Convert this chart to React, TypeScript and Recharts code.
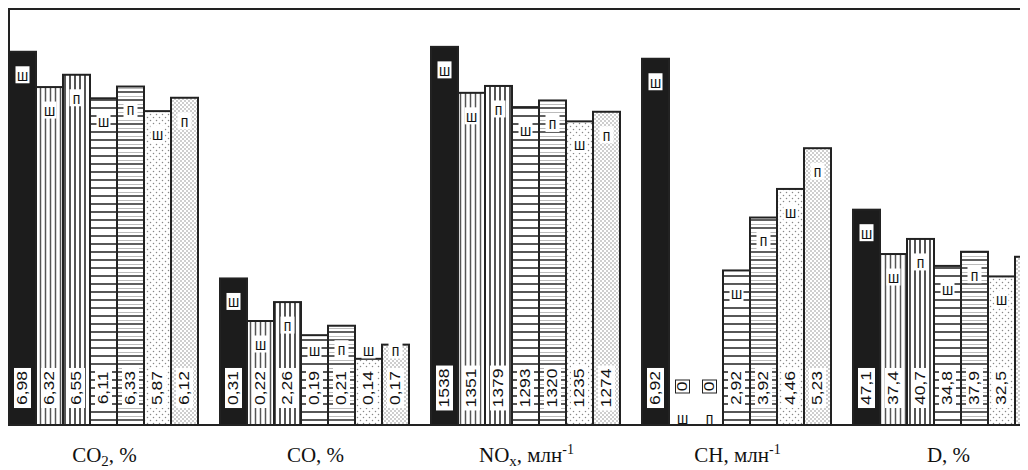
import { BarChart, Bar, XAxis, YAxis } from "recharts"

// group captions (main part, subscript, unit, superscript)
const categories = ["CO2", "CO", "NOx", "CH", "D"]
const catMain = ["CO", "CO", "NO", "CH", "D"]
const catSub = ["2", "", "x", "", ""]
const catUnit = ["%", "%", "млн", "млн", "%"]
const catSup = ["", "", "-1", "-1", ""]

// every group has its own scale: value that would reach the top of the frame
const fullScale = [7.78, 0.88, 1692, 7.86, 91.0]

const co2Values = [6.98, 6.32, 6.55, 6.11, 6.33, 5.87, 6.12]
const coValues = [0.31, 0.22, 0.26, 0.19, 0.21, 0.14, 0.17]
const noxValues = [1538, 1351, 1379, 1293, 1320, 1235, 1274]
const chValues = [6.92, 0, 0, 2.92, 3.92, 4.46, 5.23]
const dValues = [47.1, 37.4, 40.7, 34.8, 37.9, 32.5, 36.8]

// printed numbers (as in the figure, including its "2,26")
const co2Labels = ["6,98", "6,32", "6,55", "6,11", "6,33", "5,87", "6,12"]
const coLabels = ["0,31", "0,22", "2,26", "0,19", "0,21", "0,14", "0,17"]
const noxLabels = ["1538", "1351", "1379", "1293", "1320", "1235", "1274"]
const chLabels = ["6,92", "0", "0", "2,92", "3,92", "4,46", "5,23"]
const dLabels = ["47,1", "37,4", "40,7", "34,8", "37,9", "32,5", "36,8"]

const seriesLetters = ["ш", "ш", "п", "ш", "п", "ш", "п"]

const groupValues = [co2Values, coValues, noxValues, chValues, dValues]
const groupLabels = [co2Labels, coLabels, noxLabels, chLabels, dLabels]

const data = categories.map((cat, g) => {
  const row: Record<string, any> = { cat }
  groupValues[g].forEach((v, s) => {
    row[`s${s}`] = v / fullScale[g]
  })
  return row
})

const INK = "#222"
const fills = [
  "#1c1c1c",
  "url(#vs1)",
  "url(#vs2)",
  "url(#hs1)",
  "url(#hs2)",
  "url(#dot1)",
  "url(#dot2)",
]

const SANS = "'Liberation Sans', Arial, sans-serif"
const SERIF = "'Liberation Serif', 'Times New Roman', serif"
const NUM_SIZE = 14
const STRETCH = 1.25
const LETTER_SIZE = 14

function textLen(t: string) {
  let w = 0
  for (const ch of t) w += ch === "," ? 0.278 : 0.556
  return w * NUM_SIZE * STRETCH
}

function Letter({ x, y, ch }: { x: number; y: number; ch: string }) {
  return (
    <text
      transform={`translate(${x},${y}) scale(1,1.15)`}
      textAnchor="middle"
      dominantBaseline="central"
      fontFamily={SANS}
      fontSize={LETTER_SIZE}
      fill="#111"
    >
      {ch}
    </text>
  )
}

function makeShape(s: number) {
  return (props: any) => {
    const { x, y, width, height, index } = props
    const g = index
    const value = groupValues[g][s]
    const label = groupLabels[g][s]
    const letter = seriesLetters[s]
    const base = y + height
    const cx = x + width / 2

    if (value === 0) {
      const cy = base - 38.5
      return (
        <g>
          <rect x={cx - 7} y={cy - 6.5} width={14} height={13} fill="#fff" stroke={INK} strokeWidth={1} />
          <text
            transform={`translate(${cx},${cy}) rotate(-90) scale(${STRETCH},1)`}
            textAnchor="middle"
            dominantBaseline="central"
            fontFamily={SANS}
            fontSize={NUM_SIZE}
            fill="#111"
          >
            {label}
          </text>
          <Letter x={cx} y={base - 7} ch={letter} />
        </g>
      )
    }

    const len = textLen(label)
    const ly = base - 37
    const lettY = Math.min(y + 23, base - 75)
    return (
      <g>
        <rect x={x} y={y} width={width} height={height} fill={fills[s]} stroke={INK} strokeWidth={2} />
        <rect x={cx - 8.5} y={ly - len / 2 - 3} width={17} height={len + 6} fill="#fff" />
        <text
          transform={`translate(${cx},${ly}) rotate(-90) scale(${STRETCH},1)`}
          textAnchor="middle"
          dominantBaseline="central"
          fontFamily={SANS}
          fontSize={NUM_SIZE}
          fill="#111"
        >
          {label}
        </text>
        <rect x={cx - 7} y={lettY - 8.5} width={14} height={17} fill="#fff" />
        <Letter x={cx} y={lettY} ch={letter} />
      </g>
    )
  }
}

function GroupTick(props: any) {
  const { x, y, payload } = props
  const g = payload.index
  return (
    <text x={x} y={y + 35} textAnchor="middle" fontFamily={SERIF} fontSize={21} fill="#111">
      <tspan>{catMain[g]}</tspan>
      {catSub[g] && (
        <tspan dy={4} fontSize={15}>
          {catSub[g]}
        </tspan>
      )}
      <tspan dy={catSub[g] ? -4 : 0}>{`, ${catUnit[g]}`}</tspan>
      {catSup[g] && (
        <tspan dy={-8} fontSize={14}>
          {catSup[g]}
        </tspan>
      )}
    </text>
  )
}

export default function App() {
  return (
    <div style={{ position: "relative", width: 1020, height: 462, overflow: "hidden" }}>
      <BarChart
        width={1020}
        height={462}
        data={data}
        margin={{ top: 1, right: -26, bottom: 0, left: -9 }}
        barCategoryGap={10}
        barGap={0}
      >
        <defs>
          <pattern id="vs1" patternUnits="userSpaceOnUse" width={5} height={10}>
            <rect width={5} height={10} fill="#fff" />
            <line x1={2.5} y1={0} x2={2.5} y2={10} stroke="#555" strokeWidth={1.5} />
          </pattern>
          <pattern id="vs2" patternUnits="userSpaceOnUse" width={5} height={10}>
            <rect width={5} height={10} fill="#fff" />
            <line x1={2} y1={0} x2={2} y2={10} stroke="#2a2a2a" strokeWidth={1.6} />
          </pattern>
          <pattern id="hs1" patternUnits="userSpaceOnUse" width={10} height={8}>
            <rect width={10} height={8} fill="#fff" />
            <line x1={0} y1={4} x2={10} y2={4} stroke="#444" strokeWidth={1.8} />
          </pattern>
          <pattern id="hs2" patternUnits="userSpaceOnUse" width={10} height={8}>
            <rect width={10} height={8} fill="#fff" />
            <line x1={0} y1={4} x2={10} y2={4} stroke="#2a2a2a" strokeWidth={1.5} />
            <line x1={0} y1={0.5} x2={10} y2={0.5} stroke="#aaa" strokeWidth={0.8} />
          </pattern>
          <pattern id="dot1" patternUnits="userSpaceOnUse" width={6} height={6}>
            <rect width={6} height={6} fill="#fff" />
            <circle cx={1.5} cy={1.5} r={0.75} fill="#888" />
            <circle cx={4.5} cy={4.5} r={0.75} fill="#888" />
          </pattern>
          <pattern id="dot2" patternUnits="userSpaceOnUse" width={4} height={4}>
            <rect width={4} height={4} fill="#fff" />
            <circle cx={1} cy={1} r={0.7} fill="#777" />
            <circle cx={3} cy={3} r={0.7} fill="#777" />
          </pattern>
        </defs>
        <XAxis
          dataKey="cat"
          interval={0}
          height={45}
          tickLine={false}
          tickSize={0}
          axisLine={{ stroke: INK, strokeWidth: 2 }}
          tick={<GroupTick />}
        />
        <YAxis hide domain={[0, 1]} />
        {seriesLetters.map((_, s) => (
          <Bar key={s} dataKey={`s${s}`} shape={makeShape(s)} isAnimationActive={false} />
        ))}
      </BarChart>
      <div
        style={{
          position: "absolute",
          left: 0,
          top: 0,
          right: 0,
          height: 418,
          borderTop: `2px solid ${INK}`,
          borderLeft: `2px solid ${INK}`,
          boxSizing: "border-box",
          pointerEvents: "none",
        }}
      />
    </div>
  )
}
